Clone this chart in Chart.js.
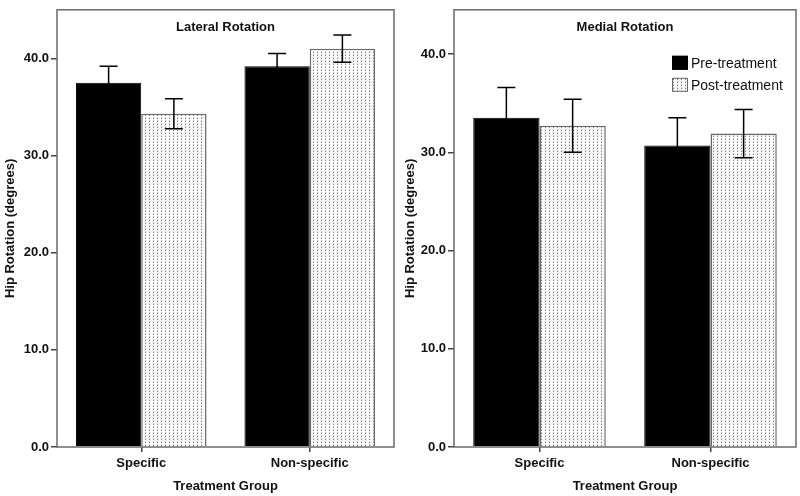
<!DOCTYPE html>
<html>
<head>
<meta charset="utf-8">
<script src="https://cdn.jsdelivr.net/npm/chart.js@4.4.1/dist/chart.umd.min.js"></script>
<style>
  html, body { margin: 0; padding: 0; background: #fff; }
  .panel { position: absolute; top: 0; width: 400px; height: 496px; }
</style>
</head>
<body>
<div class="panel" style="left:0"><canvas id="lateral"></canvas></div>
<div class="panel" style="left:400px"><canvas id="medial"></canvas></div>
<script>
const groups = ['Specific', 'Non-specific'];
const seriesNames = ['Pre-treatment', 'Post-treatment'];

const lateralPre = [37.5, 39.2];
const lateralPreErr = [1.7, 1.3];
const lateralPost = [34.3, 41.0];
const lateralPostErr = [1.55, 1.4];

const medialPre = [33.5, 30.7];
const medialPreErr = [3.1, 2.8];
const medialPost = [32.7, 31.9];
const medialPostErr = [2.7, 2.45];

const yTicks = [0, 10, 20, 30, 40];

const FONT = '"Liberation Sans", Arial, sans-serif';

// dotted fill for post-treatment bars
function dotPattern() {
  const c = document.createElement('canvas');
  c.width = 4; c.height = 3;
  const g = c.getContext('2d');
  g.fillStyle = '#fafafa';
  g.fillRect(0, 0, 4, 3);
  g.fillStyle = '#7a7a7a';
  g.fillRect(1, 1, 1, 1);
  g.fillStyle = '#c8c8c8';
  g.fillRect(1, 0, 1, 1);
  return g.createPattern(c, 'repeat');
}
const dots = dotPattern();

const errorBars = {
  id: 'errorBars',
  afterDatasetsDraw(chart) {
    const ctx = chart.ctx;
    const y = chart.scales.y;
    ctx.save();
    ctx.strokeStyle = '#000';
    ctx.lineWidth = 1.5;
    chart.data.datasets.forEach((ds, i) => {
      chart.getDatasetMeta(i).data.forEach((bar, j) => {
        const v = ds.data[j], e = ds.err[j];
        const top = y.getPixelForValue(v + e);
        const bot = y.getPixelForValue(v - e);
        ctx.beginPath();
        ctx.moveTo(bar.x, top); ctx.lineTo(bar.x, bot);
        ctx.moveTo(bar.x - 9, top); ctx.lineTo(bar.x + 9, top);
        ctx.moveTo(bar.x - 9, bot); ctx.lineTo(bar.x + 9, bot);
        ctx.stroke();
      });
    });
    ctx.restore();
  }
};

const frame = {
  id: 'frame',
  afterDraw(chart, args, opts) {
    const ctx = chart.ctx;
    const a = chart.chartArea;
    ctx.save();
    ctx.strokeStyle = '#6a6a6a';
    ctx.lineWidth = 1.5;
    ctx.strokeRect(a.left, a.top, a.right - a.left, a.bottom - a.top);
    ctx.fillStyle = '#111';
    ctx.font = 'bold 13px ' + FONT;
    ctx.textAlign = 'center';
    ctx.textBaseline = 'middle';
    ctx.fillText(opts.text, (a.left + a.right) / 2, a.top + 18);
    if (opts.legend) {
      ctx.font = '14px ' + FONT;
      ctx.textAlign = 'left';
      chart.data.datasets.forEach((ds, i) => {
        const bx = a.right - 124, by = a.top + 46 + i * 22;
        ctx.fillStyle = ds.backgroundColor;
        ctx.fillRect(bx, by, 16, 14);
        ctx.strokeStyle = ds.borderColor;
        ctx.lineWidth = 1;
        ctx.strokeRect(bx + 0.5, by + 0.5, 15, 13);
        ctx.fillStyle = '#111';
        ctx.fillText(ds.label, bx + 19, by + 8);
      });
    }
    ctx.restore();
  }
};

function makeChart(id, pre, preErr, post, postErr, title, yMax, yWidth, padRight, showLegend) {
  return new Chart(document.getElementById(id), {
    type: 'bar',
    data: {
      labels: groups,
      datasets: [
        { label: seriesNames[0], data: pre, err: preErr, backgroundColor: '#000', borderColor: '#000', borderWidth: 1 },
        { label: seriesNames[1], data: post, err: postErr, backgroundColor: dots, borderColor: '#6a6a6a', borderWidth: 1.5 }
      ]
    },
    options: {
      responsive: true,
      maintainAspectRatio: false,
      animation: false,
      layout: { padding: { top: 7, right: padRight, left: 0, bottom: 0 } },
      datasets: { bar: { categoryPercentage: 0.775, barPercentage: 1.0 } },
      scales: {
        x: {
          offset: true,
          border: { display: false },
          grid: { offset: false, drawOnChartArea: false, drawTicks: true, tickLength: 5, color: '#444', lineWidth: 1.5 },
          ticks: { color: '#111', padding: 4, font: { family: FONT, size: 13, weight: 'bold' } },
          title: { display: true, text: 'Treatment Group', color: '#111', padding: { top: 0, bottom: 2 },
                   font: { family: FONT, size: 13, weight: 'bold' } },
          afterFit(s) { s.height = 49; }
        },
        y: {
          min: 0, max: yMax,
          border: { display: false },
          grid: { drawOnChartArea: false, drawTicks: true, tickLength: 6, color: '#444', lineWidth: 1.5 },
          afterBuildTicks(s) { s.ticks = yTicks.map(v => ({ value: v })); },
          ticks: { color: '#111', padding: 2, callback: v => v.toFixed(1),
                   font: { family: FONT, size: 13, weight: 'bold' } },
          title: { display: true, text: 'Hip Rotation (degrees)', color: '#111', padding: { top: 3, bottom: 0 },
                   font: { family: FONT, size: 13, weight: 'bold' } },
          afterFit(s) { s.width = yWidth; }
        }
      },
      plugins: {
        legend: { display: false },
        tooltip: { enabled: false },
        frame: { text: title, legend: showLegend }
      }
    },
    plugins: [errorBars, frame]
  });
}

makeChart('lateral', lateralPre, lateralPreErr, lateralPost, lateralPostErr, 'Lateral Rotation', 45, 57, 6, false);
makeChart('medial', medialPre, medialPreErr, medialPost, medialPostErr, 'Medial Rotation', 44.5, 54, 4, true);
</script>
</body>
</html>
